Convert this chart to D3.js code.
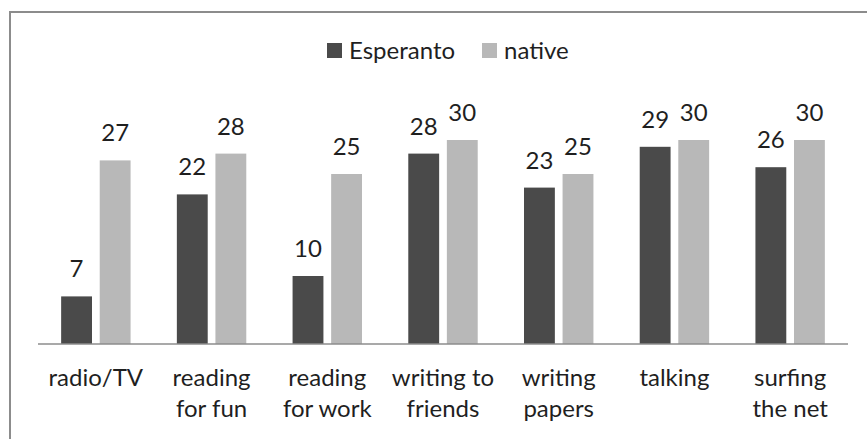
<!DOCTYPE html>
<html>
<head>
<meta charset="utf-8">
<script src="https://cdn.jsdelivr.net/npm/d3@7"></script>
<style>
  html, body { margin: 0; padding: 0; background: #fff; }
  svg { display: block; }
  text { font-family: Lato, "Open Sans", sans-serif; fill: #1f1f1f; }
</style>
</head>
<body>
<svg id="chart" width="867" height="439"></svg>
<script>
// Activities and the share reported for each language
const categories = [
  ["radio/TV"],
  ["reading", "for fun"],
  ["reading", "for work"],
  ["writing to", "friends"],
  ["writing", "papers"],
  ["talking"],
  ["surfing", "the net"]
];
const seriesNames = ["Esperanto", "native"];
const esperanto = [7, 22, 10, 28, 23, 29, 26];
const native = [27, 28, 25, 30, 25, 30, 30];
const colors = ["#4a4a4a", "#b8b8b8"];

const svg = d3.select("#chart");
const W = 867, H = 439;
const FS = 24;

// Outer frame
svg.append("rect")
  .attr("x", 10).attr("y", 12)
  .attr("width", W + 10).attr("height", H + 10)
  .attr("fill", "none")
  .attr("stroke", "#8c8c8c")
  .attr("stroke-width", 2);

const plot = { left: 38, right: 848, top: 106, bottom: 344 };

const x0 = d3.scaleBand()
  .domain(d3.range(categories.length))
  .range([plot.left, plot.right])
  .paddingInner(0.4)
  .paddingOuter(0.2);

const x1 = d3.scaleBand()
  .domain(seriesNames)
  .range([0, x0.bandwidth()])
  .paddingInner(0.2);

const y = d3.scaleLinear().domain([0, 35]).range([plot.bottom, plot.top]);

const rows = categories.map((c, i) => ({ i, values: [esperanto[i], native[i]] }));

const groups = svg.append("g").selectAll("g")
  .data(rows).join("g")
  .attr("transform", d => `translate(${x0(d.i)},0)`);

groups.selectAll("rect")
  .data(d => d.values.map((v, k) => ({ v, k })))
  .join("rect")
  .attr("x", d => x1(seriesNames[d.k]))
  .attr("y", d => y(d.v))
  .attr("width", x1.bandwidth())
  .attr("height", d => y(0) - y(d.v))
  .attr("fill", d => colors[d.k]);

groups.selectAll("text.val")
  .data(d => d.values.map((v, k) => ({ v, k })))
  .join("text")
  .attr("class", "val")
  .attr("x", d => x1(seriesNames[d.k]) + x1.bandwidth() / 2)
  .attr("y", d => y(d.v) - 19)
  .attr("text-anchor", "middle")
  .attr("font-size", FS)
  .text(d => d.v);

// Baseline
svg.append("line")
  .attr("x1", plot.left).attr("x2", plot.right)
  .attr("y1", plot.bottom).attr("y2", plot.bottom)
  .attr("stroke", "#8c8c8c")
  .attr("stroke-width", 1.5);

// Category labels
const xAxis = svg.append("g");
categories.forEach((lines, i) => {
  const cx = x0(i) + x0.bandwidth() / 2;
  const t = xAxis.append("text")
    .attr("text-anchor", "middle")
    .attr("font-size", FS);
  lines.forEach((ln, j) => {
    t.append("tspan")
      .attr("x", cx)
      .attr("y", 386 + j * 31)
      .text(ln);
  });
});

// Legend
const legend = svg.append("g");
const legendItems = [
  { name: seriesNames[0], color: colors[0], x: 327 },
  { name: seriesNames[1], color: colors[1], x: 482 }
];
legendItems.forEach(it => {
  legend.append("rect")
    .attr("x", it.x).attr("y", 43)
    .attr("width", 15).attr("height", 15)
    .attr("fill", it.color);
  legend.append("text")
    .attr("x", it.x + 22).attr("y", 59)
    .attr("font-size", FS)
    .text(it.name);
});
</script>
</body>
</html>
